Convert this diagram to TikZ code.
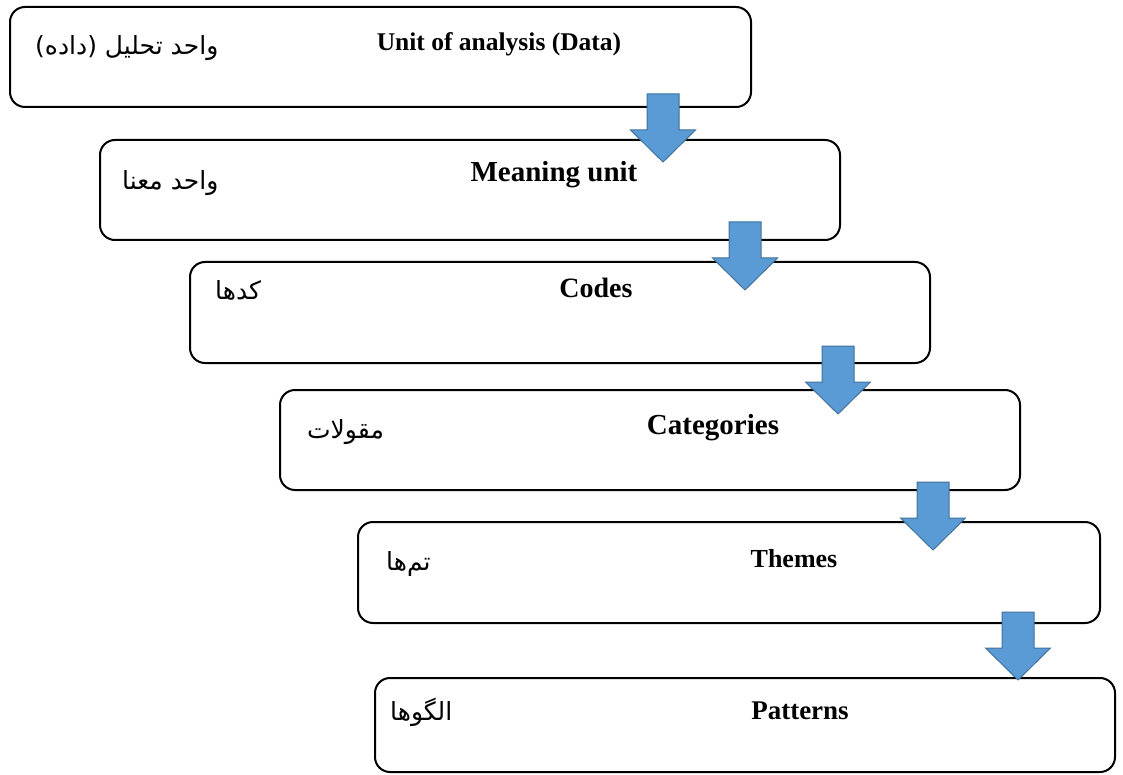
\documentclass[tikz,border=0pt]{standalone}
\usepackage{fontspec}
\setmainfont{Liberation Serif}
\newfontfamily\farsifont[Script=Arabic]{DejaVu Sans}
\TeXXeTstate=1
\usepackage{tikz}
\usetikzlibrary{positioning}

\definecolor{arrowblue}{HTML}{5B9BD5}
\definecolor{arrowedge}{HTML}{41719C}

\tikzset{
  stage/.style={draw=black, line width=2pt, fill=white, rounded corners=15pt,
    minimum width=740pt, minimum height=100pt, inner sep=0pt},
  title/.style={anchor=base, font=\fontsize{#1}{30}\selectfont\bfseries, inner sep=0pt},
  title/.default=27,
  farsi/.style={anchor=base west, font=\fontsize{25}{30}\selectfont\farsifont, inner sep=0pt},
  flowarrow/.style={draw=arrowedge, fill=arrowblue, line width=1pt, line join=miter}
}

\begin{document}
\begin{tikzpicture}[x=1pt, y=-1pt]
  \useasboundingbox (0,0) rectangle (1123,775);
  % stages
  \node [stage, minimum width=741pt] (unit) at (380.5,57) {};
  \node [stage] (meaning) at (470,190) {};
  \node [stage, minimum height=101pt] (codes) at (560,312.5) {};
  \node [stage] (categories) at (650,440) {};
  \node [stage, minimum width=742pt, minimum height=101pt] (themes) at (729,572.5) {};
  \node [stage, minimum height=94pt] (patterns) at (745,725) {};
  % english labels
  \node [title=25.5] (unitlbl) at (499,51) {Unit of analysis (Data)};
  \node [title=29] (meaninglbl) at (554,182) {Meaning unit};
  \node [title=28] (codeslbl) at (596,298) {Codes};
  \node [title=29] (categorieslbl) at (713,434) {Categories};
  \node [title=26] (themeslbl) at (794,567) {Themes};
  \node [title=27] (patternslbl) at (800,719) {Patterns};
  % persian labels
  \node [farsi] (unitfa) at (35,55) {\beginR واحد تحلیل (داده)\endR};
  \node [farsi] (meaningfa) at (122,190) {\beginR واحد معنا\endR};
  \node [farsi] (codesfa) at (215,299) {\beginR کدها\endR};
  \node [farsi] (categoriesfa) at (307,438) {\beginR مقولات\endR};
  \node [farsi] (themesfa) at (386,570) {\beginR تم‌ها\endR};
  \node [farsi] (patternsfa) at (390,720) {\beginR الگوها\endR};
  % block arrows
  \foreach \ax/\ay in {663/94, 745/222, 838/346, 933/482, 1018/612}
    \draw [flowarrow] (\ax-16,\ay) -- (\ax+16,\ay) -- (\ax+16,\ay+36) -- (\ax+32.5,\ay+36)
      -- (\ax,\ay+68) -- (\ax-32.5,\ay+36) -- (\ax-16,\ay+36) -- cycle;
\end{tikzpicture}
\end{document}
